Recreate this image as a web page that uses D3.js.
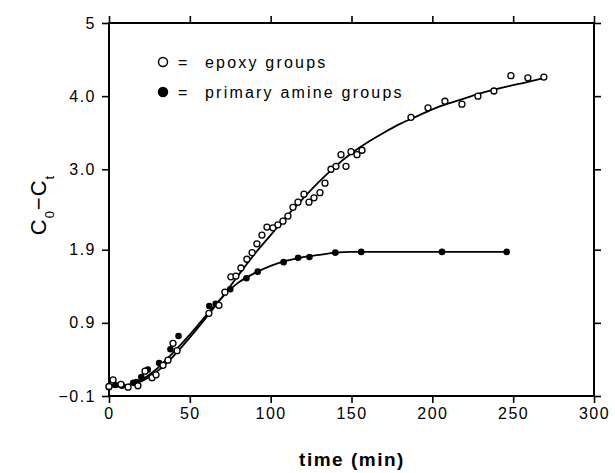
<!DOCTYPE html>
<html><head><meta charset="utf-8">
<script src="https://cdn.jsdelivr.net/npm/d3@7"></script>
<style>
body{margin:0;background:#fff;}
svg{display:block;font-family:"Liberation Sans",Arial,Helvetica,sans-serif;}
</style></head>
<body><svg id="c" width="615" height="473"></svg>
<script>
// ---- data ----
const epoxyT = [0,2.5,7.4,11.8,17.9,22.3,26.6,29.1,33.4,36.5,39.6,42.1,61.8,68.0,71.7,75.4,78.5,81.6,85.3,88.5,91.5,94.6,97.7,101.4,104.5,107.6,110.7,113.8,116.9,120.6,123.7,126.8,130.5,133.6,137.3,140.4,143.5,146.6,149.7,153.4,156.5,186.8,197.3,207.8,218.3,228.2,238.1,248.6,259.1,269.0];
const epoxyV = [0.03,0.12,0.06,0.02,0.04,0.24,0.15,0.19,0.32,0.39,0.62,0.52,1.03,1.14,1.32,1.53,1.54,1.65,1.77,1.86,1.98,2.10,2.21,2.20,2.24,2.29,2.36,2.48,2.55,2.66,2.55,2.61,2.68,2.81,3.00,3.04,3.20,3.04,3.24,3.20,3.26,3.71,3.84,3.93,3.89,4.00,4.07,4.28,4.25,4.26];
const amineT = [0,4,8,15,17,20,24,31,38,43,62,66,75,85,92,108,117,124,140,156,206,246];
const amineV = [0.02,0.05,0.04,0.08,0.09,0.16,0.26,0.35,0.54,0.72,1.13,1.16,1.36,1.51,1.60,1.73,1.79,1.80,1.86,1.87,1.87,1.87];
// fitted curves
const epoxyFitT = [0,10,20,30,40,50,60,70,80,90,100,110,120,130,140,150,160,170,180,190,200,210,220,230,240,250,260,269];
const epoxyFitV = [0.05,0.05,0.10,0.24,0.45,0.70,0.97,1.25,1.55,1.84,2.10,2.36,2.60,2.83,3.04,3.22,3.37,3.50,3.62,3.72,3.82,3.90,3.97,4.04,4.10,4.15,4.20,4.25];
const amineFitT = [0,10,20,30,40,50,60,70,80,90,100,110,120,130,140,150,170,200,246];
const amineFitV = [0.03,0.04,0.12,0.28,0.50,0.74,1.00,1.25,1.45,1.58,1.68,1.75,1.80,1.83,1.86,1.87,1.87,1.87,1.87];
const xTicks = [0,50,100,150,200,250,300];
const yTicks = [-0.1,0.9,1.9,3.0,4.0,5];
const yTickLabels = ["\u22120.1","0.9","1.9","3.0","4.0","5"];
const legendLabels = ["epoxy groups","primary amine groups"];

// ---- layout ----
const L=109,T=23,W=485,H=373;
const svg=d3.select("#c");
const x=d3.scaleLinear().domain([0,300]).range([L,L+W]);
const y=d3.scaleLinear().domain([-0.1,5]).range([T+H,T]);
const g=svg.append("g");

// frame
g.append("rect").attr("x",L).attr("y",T).attr("width",W).attr("height",H)
 .attr("fill","none").attr("stroke","#000").attr("stroke-width",2);

const tl=7;
const axB=d3.axisBottom(x).tickValues(xTicks).tickSize(tl).tickPadding(5).tickFormat(d3.format("d"));
const axT=d3.axisTop(x).tickValues(xTicks).tickSize(tl).tickFormat("");
const axL=d3.axisLeft(y).tickValues(yTicks).tickSize(tl).tickPadding(6).tickFormat((d,i)=>yTickLabels[i]);
const axR=d3.axisRight(y).tickValues(yTicks).tickSize(tl).tickFormat("");
function style(sel){
  sel.select(".domain").remove();
  sel.selectAll("line").attr("stroke","#000").attr("stroke-width",1.6);
  sel.selectAll("text").attr("fill","#000").attr("font-size",16).attr("letter-spacing","1.5px")
    .attr("font-family","'Liberation Sans',Arial,sans-serif");
}
g.append("g").attr("transform",`translate(0,${T+H})`).call(axB).call(style);
g.append("g").attr("transform",`translate(0,${T})`).call(axT).call(style);
g.append("g").attr("transform",`translate(${L},0)`).call(axL).call(style);
g.append("g").attr("transform",`translate(${L+W},0)`).call(axR).call(style);

// curves
const line=d3.line().x(d=>x(d[0])).y(d=>y(d[1])).curve(d3.curveCatmullRom.alpha(0.5));
g.append("path").datum(epoxyFitT.map((t,i)=>[t,epoxyFitV[i]])).attr("d",line)
 .attr("fill","none").attr("stroke","#000").attr("stroke-width",1.8);
g.append("path").datum(amineFitT.map((t,i)=>[t,amineFitV[i]])).attr("d",line.curve(d3.curveMonotoneX))
 .attr("fill","none").attr("stroke","#000").attr("stroke-width",1.8);

// points
g.append("g").selectAll("circle").data(amineT.map((t,i)=>[t,amineV[i]])).join("circle")
 .attr("cx",d=>x(d[0])).attr("cy",d=>y(d[1])).attr("r",3.3).attr("fill","#000");
g.append("g").selectAll("circle").data(epoxyT.map((t,i)=>[t,epoxyV[i]])).join("circle")
 .attr("cx",d=>x(d[0])).attr("cy",d=>y(d[1])).attr("r",3).attr("fill","#fff")
 .attr("stroke","#000").attr("stroke-width",1.3);

// legend
const leg=g.append("g");
[0,1].forEach(i=>{
  const yy=62+i*30;
  leg.append("circle").attr("cx",163).attr("cy",yy).attr("r",4.5)
   .attr("fill",i?"#000":"#fff").attr("stroke","#000").attr("stroke-width",1.5);
  leg.append("text").attr("x",178).attr("y",yy+5.5).attr("font-size",16)
   .attr("letter-spacing","2px").text("=");
  leg.append("text").attr("x",205).attr("y",yy+5.5).attr("font-size",16)
   .attr("letter-spacing","2.2px").text(legendLabels[i]);
});

// axis titles
svg.append("text").attr("x",352).attr("y",466).attr("text-anchor","middle")
 .attr("font-size",19).attr("font-weight","bold").attr("letter-spacing","1.5px").text("time (min)");
const yl=svg.append("text").attr("transform","translate(46,205) rotate(-90)")
 .attr("text-anchor","middle").attr("font-size",22).attr("letter-spacing","1px");
yl.append("tspan").text("C");
yl.append("tspan").attr("baseline-shift","sub").attr("font-size",13).text("0");
yl.append("tspan").text("\u2212C");
yl.append("tspan").attr("baseline-shift","sub").attr("font-size",13).text("t");
</script></body></html>
